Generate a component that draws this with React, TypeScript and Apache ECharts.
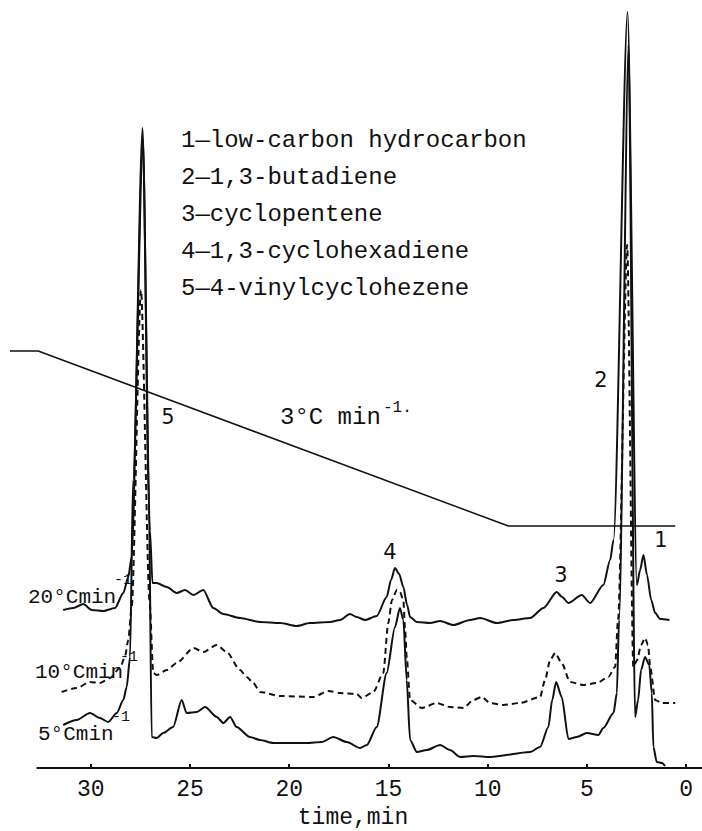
import React, { useEffect, useRef } from "react";
import * as echarts from "echarts";

// time (min) vs detector signal (arbitrary units, traces offset)
const tickValues = [0, 5, 10, 15, 20, 25, 30];
const axisExtent: [number, number] = [-0.8, 32.73];

const legendItems = [
  "1—low-carbon hydrocarbon",
  "2—1,3-butadiene",
  "3—cyclopentene",
  "4—1,3-cyclohexadiene",
  "5—4-vinylcyclohezene",
];

const trace20: [number, number][] = [
  [31.39, 158], [30.88, 160], [30.38, 164], [29.95, 158], [29.37, 157], [28.78, 160], [28.36, 175], [28.11, 191],
  [27.94, 211], [27.39, 640], [27.02, 238], [26.89, 185], [26.68, 185], [26.17, 181], [25.67, 175], [25.25, 178],
  [24.83, 173], [24.33, 178], [23.83, 160], [23.32, 154], [22.48, 150], [21.47, 146], [20.46, 145], [19.62, 142],
  [18.95, 145], [17.94, 146], [17.44, 148], [16.94, 154], [16.6, 151], [16.18, 148], [15.59, 152], [15.09, 171],
  [14.87, 188], [14.67, 200], [14.46, 194], [14.25, 181], [14.06, 163], [13.91, 151], [13.57, 146], [12.9, 145],
  [12.4, 147], [11.73, 143], [10.89, 148], [10.38, 150], [9.54, 145], [8.7, 148], [7.86, 150], [7.19, 160],
  [6.52, 176], [6.25, 171], [5.93, 165], [5.26, 173], [4.84, 165], [4.17, 183], [3.83, 208], [3.66, 228],
  [2.95, 756], [2.48, 183], [2.32, 198], [2.15, 213], [1.97, 193], [1.76, 168], [1.56, 155], [1.31, 149], [0.84, 148],
];

const trace10: [number, number][] = [
  [31.47, 76], [30.71, 80], [30.04, 86], [29.54, 85], [29.03, 90], [28.53, 100], [28.28, 111], [28.11, 128],
  [27.94, 161], [27.47, 478], [27.04, 168], [26.85, 95], [26.68, 93], [26.17, 98], [25.67, 105], [24.83, 120],
  [24.33, 116], [23.65, 123], [23.15, 116], [22.48, 98], [22.14, 91], [21.81, 85], [21.47, 76], [20.46, 72],
  [18.79, 71], [18.03, 77], [17.44, 75], [16.6, 74], [16.35, 70], [15.76, 76], [15.26, 95], [15.01, 145],
  [14.82, 168], [14.58, 178], [14.42, 176], [14.25, 168], [14.16, 138], [14.08, 111], [13.91, 68], [13.32, 60],
  [12.57, 65], [11.9, 61], [11.22, 60], [10.72, 68], [10.3, 71], [9.88, 65], [9.21, 63], [8.37, 65], [7.36, 71],
  [7.11, 88], [6.85, 108], [6.6, 115], [6.27, 105], [5.85, 86], [5.18, 83], [4.5, 85], [3.92, 91], [3.58, 101],
  [3.43, 148], [2.97, 523], [2.66, 101], [2.47, 108], [2.27, 123], [2.07, 130], [1.92, 123], [1.81, 101],
  [1.56, 68], [1.22, 65], [0.55, 65],
];

const trace5: [number, number][] = [
  [31.39, 43], [30.71, 48], [30.04, 55], [29.54, 50], [29.12, 46], [28.69, 55], [28.36, 68], [28.19, 81],
  [28.02, 111], [27.87, 288], [27.37, 628], [27.07, 268], [26.93, 31], [26.68, 30], [26.35, 35], [25.85, 41],
  [25.42, 68], [25.17, 55], [24.66, 56], [24.24, 61], [23.65, 51], [23.32, 45], [22.98, 51], [22.65, 41],
  [21.98, 31], [21.47, 28], [20.8, 25], [19.12, 25], [18.36, 26], [17.78, 31], [17.1, 26], [16.43, 20],
  [16.09, 23], [15.59, 41], [15.09, 95], [14.67, 141], [14.42, 160], [14.25, 148], [14.08, 88], [13.91, 28],
  [13.57, 16], [13.07, 18], [12.4, 23], [11.9, 18], [11.39, 11], [10.72, 12], [9.88, 11], [7.86, 16], [7.36, 21],
  [6.94, 41], [6.75, 68], [6.55, 86], [6.27, 71], [5.93, 29], [5.51, 31], [5.0, 35], [4.42, 33], [4.17, 40],
  [3.66, 55], [3.49, 75], [3.38, 148], [2.9, 723], [2.57, 51], [2.42, 68], [2.27, 98], [2.07, 111], [1.86, 103],
  [1.73, 75], [1.65, 21], [1.48, 6], [1.22, 5], [1.06, 2],
];

const tempProgram: [number, number][] = [
  [34.07, 417], [32.65, 417], [8.96, 242], [0.55, 242],
];

const MONO = '"Liberation Mono", "DejaVu Sans Mono", monospace';
const SANS = '"DejaVu Sans", sans-serif';
const INK = "#111";

export default function App() {
  const ref = useRef<HTMLDivElement>(null);
  useEffect(() => {
    const chart = echarts.init(ref.current as HTMLDivElement, null, { renderer: "svg" });
    const lineBase = {
      type: "line" as const,
      showSymbol: false,
      symbol: "none",
      clip: false,
      smooth: 0.25,
      smoothMonotone: "x",
      silent: true,
    };
    const txt = (text: string, x: number, y: number, font: string, align = "left") => ({
      type: "text",
      x,
      y,
      silent: true,
      style: { text, font, fill: INK, align, verticalAlign: "middle" },
    });
    const graphic: any[] = [];
    legendItems.forEach((s, i) => graphic.push(txt(s, 181, 140 + 37 * i, `24px ${MONO}`)));
    graphic.push(txt("3°C min", 280, 417, `24px ${MONO}`));
    graphic.push(txt("-1.", 383, 408, `16px ${MONO}`));
    graphic.push(txt("5", 168, 417, `21px ${SANS}`, "center"));
    graphic.push(txt("2", 601, 380, `21px ${SANS}`, "center"));
    graphic.push(txt("1", 661, 540, `21px ${SANS}`, "center"));
    graphic.push(txt("4", 390, 552, `21px ${SANS}`, "center"));
    graphic.push(txt("3", 561, 575, `21px ${SANS}`, "center"));
    graphic.push(txt("20°Cmin", 28, 597, `21px ${MONO}`));
    graphic.push(txt("-1", 114, 580, `15px ${MONO}`));
    graphic.push(txt("10°Cmin", 35, 672, `21px ${MONO}`));
    graphic.push(txt("-1", 120, 657, `15px ${MONO}`));
    graphic.push(txt("5°Cmin", 38, 734, `21px ${MONO}`));
    graphic.push(txt("-1", 112, 717, `15px ${MONO}`));
    graphic.push(txt("time,min", 353, 818, `23px ${MONO}`, "center"));

    const baseline: [number, number][] = [[axisExtent[1], 0], [axisExtent[0], 0]];

    chart.setOption({
      animation: false,
      backgroundColor: "#fff",
      grid: { left: 10, right: 0, top: 0, bottom: 63, containLabel: false, outerBoundsMode: "none" },
      xAxis: {
        type: "value",
        inverse: true,
        min: axisExtent[0],
        max: tempProgram[0][0],
        splitLine: { show: false },
        axisLine: { show: false },
        axisTick: { show: true, inside: true, length: 4, customValues: tickValues, lineStyle: { color: INK, width: 2 } },
        axisLabel: {
          customValues: tickValues,
          color: INK,
          fontFamily: MONO,
          fontSize: 23,
          margin: 10,
        },
      },
      yAxis: { type: "value", min: 0, max: 768, show: false },
      series: [
        { ...lineBase, name: "axis", smooth: false, data: baseline, lineStyle: { color: INK, width: 2 } },
        { ...lineBase, name: "20°C/min", data: trace20, lineStyle: { color: INK, width: 2 } },
        { ...lineBase, name: "10°C/min", data: trace10, lineStyle: { color: INK, width: 2, type: [6, 4] } },
        { ...lineBase, name: "5°C/min", data: trace5, lineStyle: { color: INK, width: 2 } },
        { ...lineBase, name: "temperature", smooth: false, data: tempProgram, lineStyle: { color: INK, width: 1.5 } },
      ],
      graphic,
    });
    return () => chart.dispose();
  }, []);
  return (
    <div
      ref={ref}
      style={{ position: "absolute", left: 0, top: 0, width: 702, height: 831, background: "#fff" }}
    />
  );
}
